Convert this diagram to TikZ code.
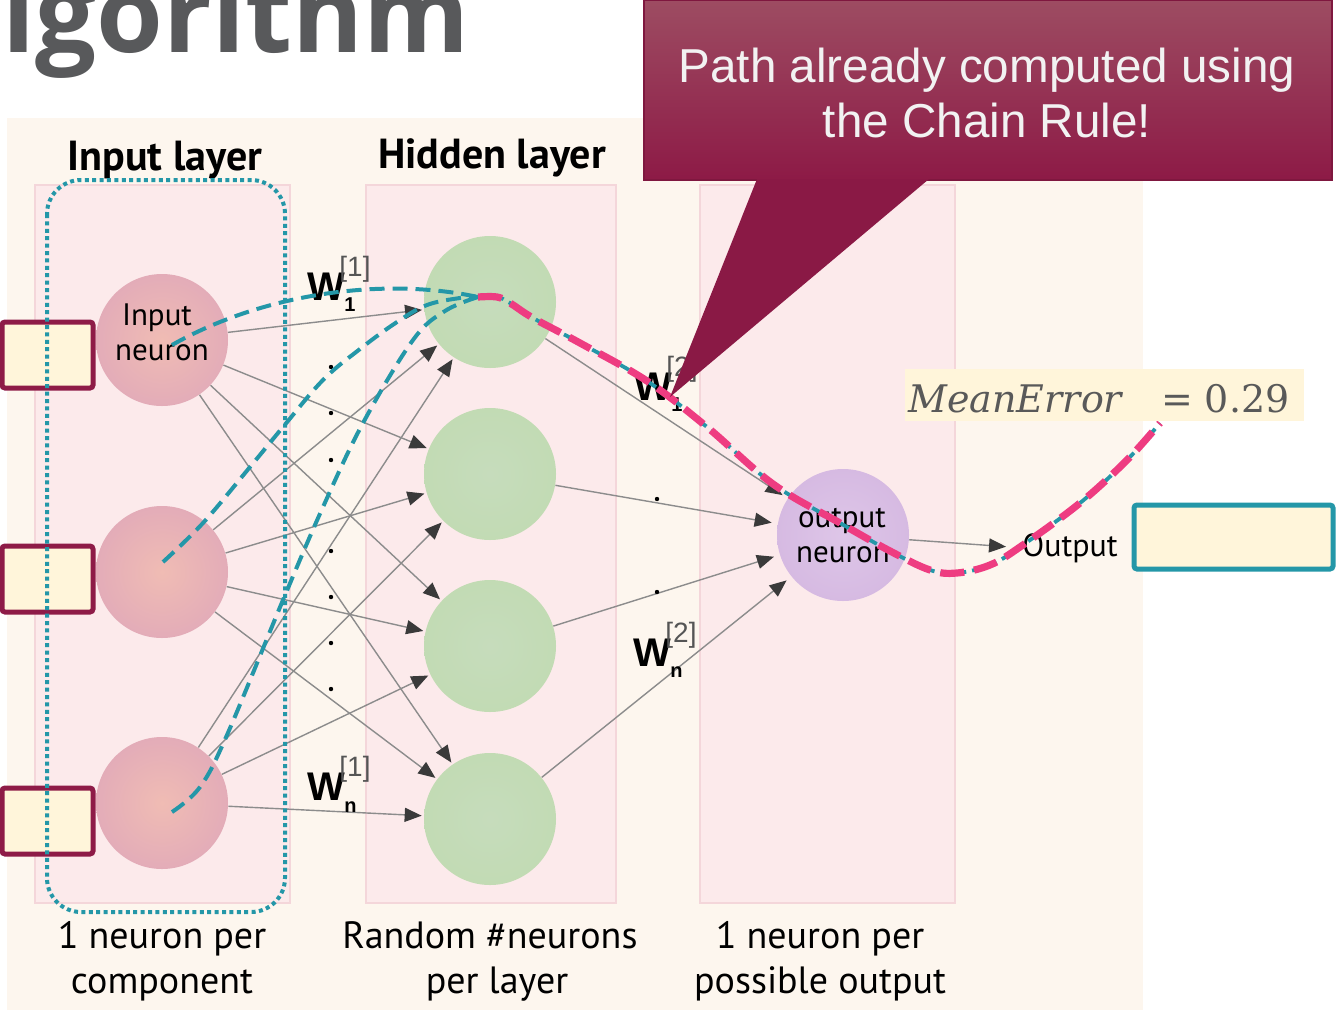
\documentclass[tikz,border=0pt]{standalone}
\usepackage{fontspec}
\setmainfont{Liberation Sans}
\newfontfamily\titlefont{Open Sans}
\newfontfamily\handfont{PT Sans}
\newfontfamily\eqfont{DejaVu Serif}
\usetikzlibrary{arrows.meta}

\definecolor{panel}{HTML}{FDF6EE}
\definecolor{colfill}{HTML}{FCEAEB}
\definecolor{coledge}{HTML}{F4D6DA}
\definecolor{inA}{HTML}{F0BCB4}
\definecolor{inB}{HTML}{E3ACB8}
\definecolor{hidA}{HTML}{C6DCBC}
\definecolor{hidB}{HTML}{C2DBB4}
\definecolor{outA}{HTML}{DEC6E8}
\definecolor{outB}{HTML}{D6BAE2}
\definecolor{linegray}{HTML}{8C8C8C}
\definecolor{headgray}{HTML}{3A3A3A}
\definecolor{pathteal}{HTML}{2497A8}
\definecolor{pathpink}{HTML}{EE3C81}
\definecolor{maroon}{HTML}{8E1B47}
\definecolor{calTop}{HTML}{9D4C62}
\definecolor{calBot}{HTML}{8D1A46}
\definecolor{boxfill}{HTML}{FFF5DA}
\definecolor{titlegray}{HTML}{58595B}
\definecolor{mathgray}{HTML}{595959}
\definecolor{supgray}{HTML}{555555}

\begin{document}
\begin{tikzpicture}[x=0.5pt,y=-0.5pt,
  colbox/.style={fill=colfill, draw=coledge, line width=0.8pt},
  neuron/.style={circle, minimum size=66pt, inner sep=0pt},
  innrn/.style={neuron, inner color=inA, outer color=inB},
  hidnrn/.style={neuron, inner color=hidA, outer color=hidB},
  outnrn/.style={neuron, inner color=outA, outer color=outB},
  conn/.style={draw=linegray, line width=0.7pt,
    -{Triangle[length=8.5pt,width=7pt,color=headgray]}, shorten >=1pt},
  hand/.style={font=\handfont\fontsize{19}{22}\selectfont, text=black, inner sep=0pt},
  handbold/.style={font=\handfont\bfseries\fontsize{21}{24}\selectfont, text=black, inner sep=0pt},
  nlabel/.style={font=\handfont\fontsize{15.5}{18}\selectfont, text=black, inner sep=0pt},
  wbig/.style={font=\bfseries\fontsize{20}{22}\selectfont, text=black, inner sep=0pt},
  wsub/.style={font=\bfseries\fontsize{10}{12}\selectfont, text=black, inner sep=0pt},
  wsup/.style={font=\fontsize{14}{16}\selectfont, text=supgray, inner sep=0pt},
  inbox/.style={fill=boxfill, draw=maroon, line width=2.5pt, rounded corners=1.5pt},
  tealdash/.style={draw=pathteal, line width=2pt, dash pattern=on 7.5pt off 4pt},
  dotmark/.style={circle, fill=black, inner sep=0pt, minimum size=2.2pt},
  caltext/.style={text=white!95!black, inner sep=0pt, anchor=base, font=\fontsize{23.8}{26}\selectfont},
  eqtext/.style={text=mathgray, inner sep=0pt, font=\eqfont\fontsize{19}{22}\selectfont}
]
\path[use as bounding box] (0,0) rectangle (1337,1012);
\clip (0,0) rectangle (1337,1012);
\fill[white] (0,0) rectangle (1337,1012);

% panel and layer columns
\fill[panel] (7,118) rectangle (1143,1010);
\draw[colbox] (35,185) rectangle (290,903);
\draw[colbox] (366,185) rectangle (616,903);
\draw[colbox] (700,185) rectangle (955,903);

% neurons
\node[innrn] (in1) at (162,340) {};
\node[innrn] (in2) at (162,572) {};
\node[innrn] (in3) at (162,803) {};
\node[hidnrn] (h1) at (490,302) {};
\node[hidnrn] (h2) at (490,474) {};
\node[hidnrn] (h3) at (490,646) {};
\node[hidnrn] (h4) at (490,819) {};
\node[outnrn] (out) at (843,535) {};

% weighted connections
\foreach \i in {1,2,3}{
  \foreach \j in {1,2,3,4}{
    \draw[conn] (in\i) -- (h\j);
  }
}
\foreach \j in {1,2,3,4}{
  \draw[conn, shorten >=3pt] (h\j) -- (out);
}
\node[font=\handfont\fontsize{16}{18}\selectfont, inner sep=0pt, anchor=base west] (outtxt) at (1022,556) {Output};
\draw[conn, shorten >=8pt] (out) -- (outtxt.west);

% neuron captions
\node[nlabel, anchor=base] (inlblA) at (157,325) {Input};
\node[nlabel, anchor=base] (inlblB) at (162,360) {neuron};
\node[nlabel, anchor=base] (outlblA) at (842,527) {output};
\node[nlabel, anchor=base] (outlblB) at (843,562) {neuron};

% layer titles and footers
\node[handbold, anchor=base] (ttlIn) at (165,170) {Input layer};
\node[handbold, anchor=base] (ttlHid) at (492,168) {Hidden layer};
\node[hand, anchor=base] (ftA1) at (162,948) {1 neuron per};
\node[hand, anchor=base] (ftA2) at (162,993) {component};
\node[hand, anchor=base] (ftB1) at (490,948) {Random \#neurons};
\node[hand, anchor=base] (ftB2) at (497,993) {per layer};
\node[hand, anchor=base] (ftC1) at (820,948) {1 neuron per};
\node[hand, anchor=base] (ftC2) at (820,993) {possible output};

% ellipsis dots
\foreach \y [count=\k] in {367,413,460,551,597,643,689}{
  \node[dotmark] (dA\k) at (331,\y) {};
}
\node[dotmark] (dB1) at (657,499) {};
\node[dotmark] (dB2) at (657,592) {};

% weight labels
\node[wbig, anchor=base west] (w11) at (307,300) {W};
\node[wsub, anchor=base west] (w11s) at (344,311) {1};
\node[wsup, anchor=base west] (w11u) at (339,276) {[1]};
\node[wbig, anchor=base west] (wn1) at (307,800) {W};
\node[wsub, anchor=base west] (wn1s) at (344,812) {n};
\node[wsup, anchor=base west] (wn1u) at (339,776) {[1]};
\node[wbig, anchor=base west] (w12) at (634,400) {W};
\node[wsub, anchor=base west] (w12s) at (671,411) {1};
\node[wsup, anchor=base west] (w12u) at (666,376) {[2]};
\node[wbig, anchor=base west] (wn2) at (633,666) {W};
\node[wsub, anchor=base west] (wn2s) at (670,677) {n};
\node[wsup, anchor=base west] (wn2u) at (665,642) {[2]};

% input and output value boxes
\draw[inbox] (2,322) rectangle (93,388);
\draw[inbox] (2,546) rectangle (93,612);
\draw[inbox] (2,788) rectangle (93,854);
\draw[fill=boxfill, draw=pathteal, line width=2.5pt, rounded corners=1.5pt] (1134,505) rectangle (1333,569);

% dotted frame round the input layer
\draw[pathteal, line width=2pt, dash pattern=on 2pt off 1.7pt, rounded corners=17pt] (47,180) rectangle (285,912);

% gradient paths from the inputs
\coordinate (P) at (478,297);
\draw[tealdash] (172,345) .. controls (260,295) and (380,276) .. (P);
\draw[tealdash] plot[smooth, tension=0.6] coordinates {(163,562) (203,523) (250,467) (283,427) (323,380) (360,349) (397,322) (427,305) (460,298) (P)};
\draw[tealdash] plot[smooth, tension=0.6] coordinates {(172,812) (200,787) (227,735) (283,600) (323,507) (363,423) (413,340) (445,311) (P)};

% path already computed with the chain rule
\draw[pathteal, line width=1.9pt, dash pattern=on 5pt off 3pt] plot[smooth, tension=0.6] coordinates {(P) (497,297) (510,303) (533,318) (580,343) (647,381) (707,427) (773,484) (840,523) (890,551) (930,570) (957,573) (990,565) (1020,547) (1080,503) (1127,460) (1160,423)};
\draw[pathpink, line width=3.6pt, dash pattern=on 12pt off 5pt] plot[smooth, tension=0.6] coordinates {(P) (497,297) (510,303) (533,318) (580,343) (647,381) (707,427) (773,484) (840,523) (890,551) (930,570) (957,573) (990,565) (1020,547) (1080,503) (1127,460) (1160,423)};

% mean error
\fill[boxfill] (905,369) rectangle (1304,421);
\node[eqtext, anchor=base west] (merr) at (908,412) {\itshape MeanError};
\node[eqtext, anchor=base east] (mval) at (1290,412) {= 0.29};

% callout
\shade[top color=calTop, bottom color=calBot] (644,0) rectangle (1332,180);
\draw[calBot!90!black, line width=0.6pt] (644,0) rectangle (1332,180);
\fill[calBot!98!black] (757,179) -- (929,179) -- (670,397) -- cycle;
\node[caltext] (cal1) at (987,82) {Path already computed using};
\node[caltext] (cal2) at (987,137) {the Chain Rule!};

% heading fragment
\node[text=titlegray, inner sep=0pt, anchor=base west, font=\titlefont\bfseries\fontsize{54}{60}\selectfont] (title) at (2,52) {lgorithm};
\end{tikzpicture}
\end{document}
